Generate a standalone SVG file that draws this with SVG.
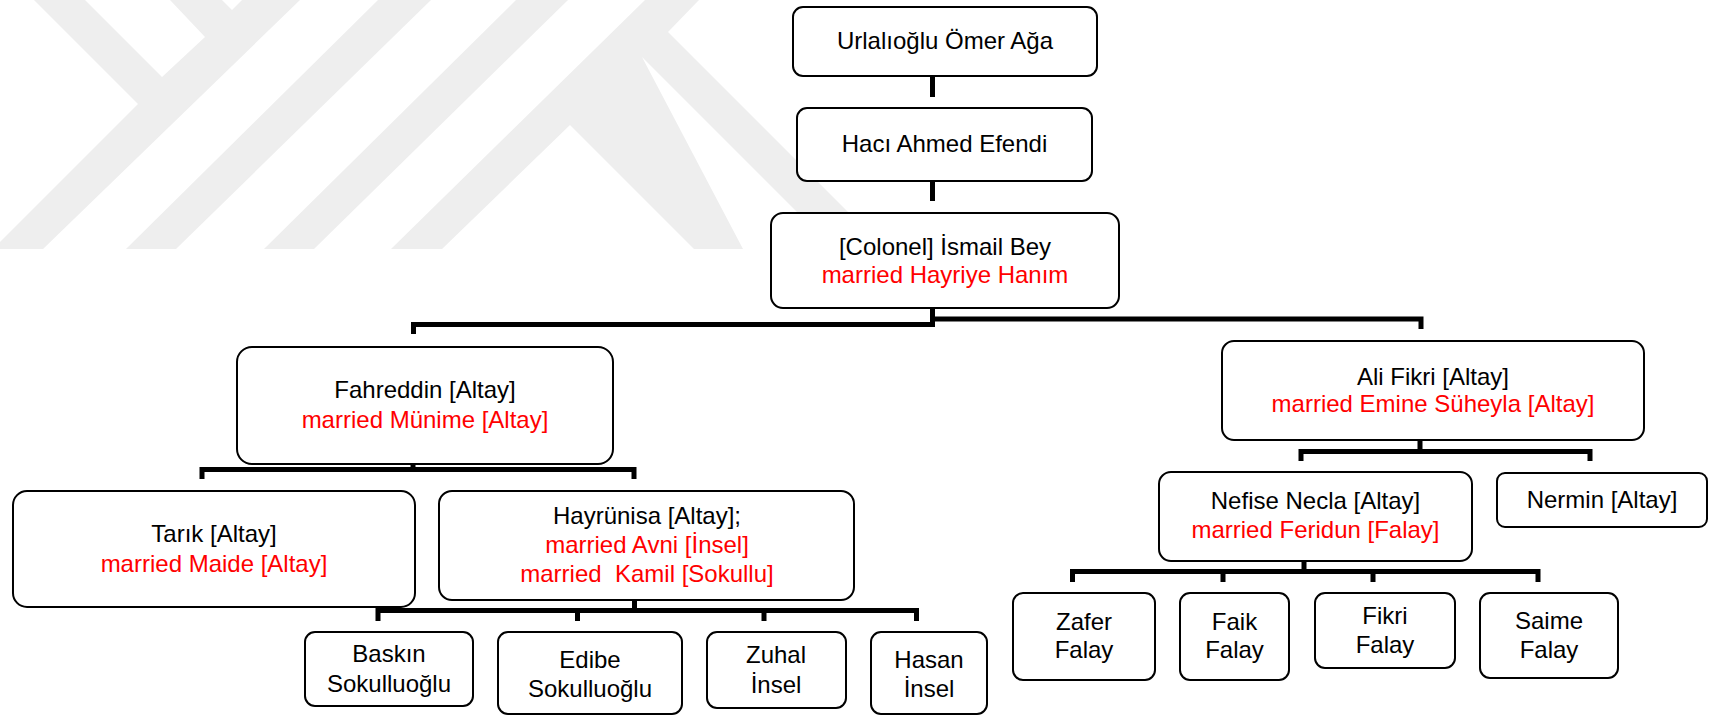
<svg xmlns="http://www.w3.org/2000/svg" width="1715" height="716" viewBox="0 0 1715 716">
<style>
.bx{fill:#fff;stroke:#000;stroke-width:2}
.t{font-family:"Liberation Sans",Arial,sans-serif;font-size:24px;fill:#000;text-anchor:middle}
.r{fill:#ff0000}
.c{fill:none;stroke:#000;stroke-width:5;stroke-linejoin:miter}
.stub{fill:#e4e4e4}
.wm{fill:#eeeeee}
</style>
<g id="watermark">
<polygon class="wm" points="34,0 85,0 162,77 205,37 170,0 222,0 232,10 242,0 300,0 43,249 0,249 0,242 138,104"/>
<polygon class="wm" points="126,249 176,249 431,0 378,0"/>
<polygon class="wm" points="264,249 314,249 568,0 516,0"/>
<polygon class="wm" points="391,249 645,0 699,0 668,32 885,249 834,249 642,57 743,249 694,249 570,125 442,249"/>
</g>
<g id="connectors">
<rect class="stub" x="930" y="64" width="5" height="12"/>
<rect class="stub" x="930" y="169" width="5" height="12"/>
<rect class="stub" x="930" y="296" width="5" height="12"/>
<rect class="stub" x="1418" y="429" width="5" height="11"/>
<rect class="stub" x="632" y="588" width="5" height="12"/>
<rect class="stub" x="1302" y="549" width="5" height="12"/>
<path class="c" d="M932.5,76 V97"/>
<path class="c" d="M932.5,181 V201"/>
<path class="c" d="M932.5,308 V324.5 H413.5 V334"/>
<path class="c" d="M932.5,308 V319 H1421 V329"/>
<path class="c" d="M413,464 V469.5 M202,479 V469.5 H634 V479"/>
<path class="c" d="M634.5,600 V610.5 M378,621 V610.5 H916.5 V621 M577.5,610.5 V621 M764,610.5 V621"/>
<path class="c" d="M1420,440 V451.5 M1301,461 V451.5 H1590 V461"/>
<path class="c" d="M1304,561 V571.5 M1072.5,582 V571.5 H1538 V582 M1223,571.5 V582 M1373,571.5 V582"/>
</g>
<g id="n1"><rect class="bx" x="793" y="7" width="304" height="69" rx="10"/><text class="t" x="945" y="49">Urlalıoğlu Ömer Ağa</text></g>
<g id="n2"><rect class="bx" x="797" y="108" width="295" height="73" rx="10"/><text class="t" x="944.5" y="152">Hacı Ahmed Efendi</text></g>
<g id="n3"><rect class="bx" x="771" y="213" width="348" height="95" rx="12"/><text class="t" x="945" y="255">[Colonel] İsmail Bey</text><text class="t r" x="945" y="283">married Hayriye Hanım</text></g>
<g id="n4"><rect class="bx" x="237" y="347" width="376" height="117" rx="15"/><text class="t" x="425" y="398">Fahreddin [Altay]</text><text class="t r" x="425" y="428">married Münime [Altay]</text></g>
<g id="n5"><rect class="bx" x="1222" y="341" width="422" height="99" rx="12"/><text class="t" x="1433" y="385">Ali Fikri [Altay]</text><text class="t r" x="1433" y="412">married Emine Süheyla [Altay]</text></g>
<g id="n6"><rect class="bx" x="13" y="491" width="402" height="116" rx="14"/><text class="t" x="214" y="542">Tarık [Altay]</text><text class="t r" x="214" y="572">married Maide [Altay]</text></g>
<g id="n7"><rect class="bx" x="439" y="491" width="415" height="109" rx="13"/><text class="t" x="647" y="524">Hayrünisa [Altay];</text><text class="t r" x="647" y="553">married Avni [İnsel]</text><text class="t r" x="647" y="582" xml:space="preserve">married  Kamil [Sokullu]</text></g>
<g id="n8"><rect class="bx" x="1159" y="472" width="313" height="89" rx="12"/><text class="t" x="1315.5" y="509">Nefise Necla [Altay]</text><text class="t r" x="1315.5" y="538">married Feridun [Falay]</text></g>
<g id="n9"><rect class="bx" x="1497" y="473" width="210" height="54" rx="8"/><text class="t" x="1602" y="508">Nermin [Altay]</text></g>
<g id="n10"><rect class="bx" x="305" y="632" width="168" height="74" rx="10"/><text class="t" x="389" y="662">Baskın</text><text class="t" x="389" y="692">Sokulluoğlu</text></g>
<g id="n11"><rect class="bx" x="498" y="632" width="184" height="82" rx="10"/><text class="t" x="590" y="668">Edibe</text><text class="t" x="590" y="697">Sokulluoğlu</text></g>
<g id="n12"><rect class="bx" x="707" y="632" width="139" height="76" rx="10"/><text class="t" x="776" y="663">Zuhal</text><text class="t" x="776" y="693">İnsel</text></g>
<g id="n13"><rect class="bx" x="871" y="632" width="116" height="82" rx="10"/><text class="t" x="929" y="668">Hasan</text><text class="t" x="929" y="697">İnsel</text></g>
<g id="n14"><rect class="bx" x="1013" y="593" width="142" height="87" rx="10"/><text class="t" x="1084" y="630">Zafer</text><text class="t" x="1084" y="658">Falay</text></g>
<g id="n15"><rect class="bx" x="1180" y="593" width="109" height="87" rx="10"/><text class="t" x="1234.5" y="630">Faik</text><text class="t" x="1234.5" y="658">Falay</text></g>
<g id="n16"><rect class="bx" x="1315" y="593" width="140" height="75" rx="10"/><text class="t" x="1385" y="624">Fikri</text><text class="t" x="1385" y="653">Falay</text></g>
<g id="n17"><rect class="bx" x="1480" y="593" width="138" height="85" rx="10"/><text class="t" x="1549" y="629">Saime</text><text class="t" x="1549" y="658">Falay</text></g>
</svg>
